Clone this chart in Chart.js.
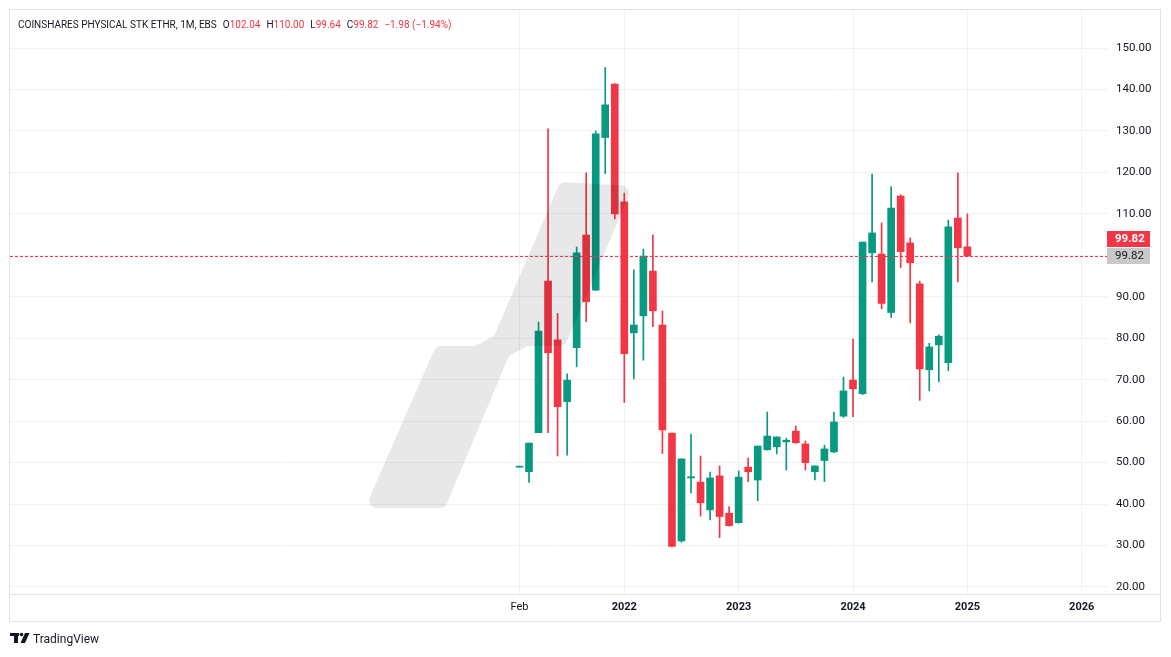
<!DOCTYPE html>
<html>
<head>
<meta charset="utf-8">
<script src="https://cdn.jsdelivr.net/npm/chart.js@4.4.1/dist/chart.umd.min.js"></script>
<style>
  html, body { margin: 0; padding: 0; background: #ffffff; }
  #wrap { width: 1171px; height: 657px; position: relative; }
</style>
</head>
<body>
<div id="wrap"><canvas id="chart"></canvas></div>
<script>
// monthly candles, Feb 2021 .. Jan 2025
const months = [
  '2021-02','2021-03','2021-04','2021-05','2021-06','2021-07','2021-08','2021-09','2021-10','2021-11','2021-12',
  '2022-01','2022-02','2022-03','2022-04','2022-05','2022-06','2022-07','2022-08','2022-09','2022-10','2022-11','2022-12',
  '2023-01','2023-02','2023-03','2023-04','2023-05','2023-06','2023-07','2023-08','2023-09','2023-10','2023-11','2023-12',
  '2024-01','2024-02','2024-03','2024-04','2024-05','2024-06','2024-07','2024-08','2024-09','2024-10','2024-11','2024-12',
  '2025-01'
];
const openVals = [
  48.9, 47.8, 57.2, 93.8, 79.6, 64.7, 77.7, 104.9, 91.6, 128.4, 141.3,
  112.9, 81.3, 85.4, 96.2, 83.2, 57.1, 31.1, 46.3, 45.3, 38.6, 46.8, 37.8,
  35.5, 48.9, 45.8, 53.1, 53.8, 55.0, 57.6, 54.5, 47.8, 50.5, 52.6, 61.2,
  69.9, 66.6, 100.6, 100.3, 86.2, 114.3, 103.0, 93.1, 72.4, 78.4, 74.1, 109.0,
  102.04
];
const highVals = [
  49.0, 54.7, 83.9, 130.5, 86.0, 71.4, 102.0, 119.9, 130.0, 145.3, 141.4,
  115.0, 96.5, 101.5, 104.9, 86.6, 57.1, 50.9, 56.9, 51.6, 47.7, 49.2, 39.4,
  48.0, 51.1, 54.0, 62.2, 56.2, 55.9, 58.8, 55.2, 49.2, 54.2, 62.2, 70.6,
  79.8, 103.2, 119.6, 107.8, 116.5, 114.6, 104.2, 93.8, 78.8, 80.8, 108.5, 119.9,
  110.00
];
const lowVals = [
  48.9, 45.2, 57.2, 57.2, 51.6, 51.8, 73.1, 84.0, 91.5, 119.7, 108.8,
  64.5, 70.2, 74.7, 82.8, 52.2, 29.7, 30.8, 42.7, 37.1, 36.2, 31.9, 34.7,
  35.4, 45.4, 40.8, 53.0, 52.1, 48.2, 54.6, 48.2, 45.8, 45.4, 52.4, 60.9,
  61.1, 66.4, 93.6, 87.1, 85.0, 97.0, 83.7, 65.0, 67.3, 69.5, 72.2, 93.6,
  99.64
];
const closeVals = [
  49.0, 54.7, 81.7, 76.5, 63.5, 69.9, 100.6, 88.8, 129.3, 136.3, 110.0,
  76.3, 83.2, 99.8, 86.6, 57.9, 29.8, 50.9, 46.6, 40.3, 46.3, 37.0, 34.8,
  46.5, 47.8, 54.0, 56.4, 56.2, 55.4, 54.8, 50.0, 49.2, 53.3, 59.8, 67.3,
  67.8, 103.2, 105.4, 88.4, 111.4, 100.9, 98.2, 72.6, 77.9, 80.5, 106.9, 101.80,
  99.82
];
const yTicks = [20, 30, 40, 50, 60, 70, 80, 90, 100, 110, 120, 130, 140, 150];
const yLabelTicks = [20, 30, 40, 50, 60, 70, 80, 90, 110, 120, 130, 140, 150];
const xTickMonths = ['2021-02', '2022-01', '2023-01', '2024-01', '2025-01', '2026-01'];
const xTickLabels = ['Feb', '2022', '2023', '2024', '2025', '2026'];
const lastPrice = 99.82;

const UP = '#089981';
const DOWN = '#f23645';
const TEXT = '#131722';
const GRID = '#f0f1f3';
const BORDER = '#e0e3eb';

// month string -> index counted from Jan 2021
function monthIdx(m) {
  const [y, mo] = m.split('-').map(Number);
  return (y - 2021) * 12 + (mo - 1);
}

const candleColors = months.map((m, i) => closeVals[i] >= openVals[i] ? UP : DOWN);
const bodies = months.map((m, i) => ({ x: monthIdx(m), y: [openVals[i], closeVals[i]] }));
const wicks = months.map((m, i) => ({ x: monthIdx(m), y: [lowVals[i], highVals[i]] }));
const xTickIdx = xTickMonths.map(monthIdx);

const FONT = 'Roboto, "Liberation Sans", Arial, sans-serif';

// frame, watermark, legend, price line, labels, logo
const decorPlugin = {
  id: 'decor',
  afterDatasetsDraw(chart) {
    const ctx = chart.ctx;
    const ca = chart.chartArea;
    const ys = chart.scales.y;
    ctx.save();
    ctx.beginPath();
    ctx.rect(ca.left, ca.top, ca.right - ca.left, ca.bottom - ca.top);
    ctx.clip();

    // watermark
    const pts = [[365, 508], [445, 508], [509, 356], [527, 346], [565, 346],
                 [633, 186], [560, 182], [494, 336], [475, 346], [436, 346]];
    ctx.fillStyle = 'rgba(0,0,0,0.09)';
    ctx.beginPath();
    const r = 8;
    for (let i = 0; i < pts.length; i++) {
      const p0 = pts[(i - 1 + pts.length) % pts.length];
      const p1 = pts[i];
      const p2 = pts[(i + 1) % pts.length];
      const mx = (p0[0] + p1[0]) / 2, my = (p0[1] + p1[1]) / 2;
      if (i === 0) ctx.moveTo(mx, my);
      ctx.arcTo(p1[0], p1[1], p2[0], p2[1], r);
    }
    ctx.closePath();
    ctx.fill();

    // last price line
    const py = Math.round(ys.getPixelForValue(lastPrice)) + 0.5;
    ctx.strokeStyle = DOWN;
    ctx.lineWidth = 1;
    ctx.setLineDash([3, 2]);
    ctx.beginPath();
    ctx.moveTo(ca.left, py);
    ctx.lineTo(ca.right, py);
    ctx.stroke();
    ctx.setLineDash([]);
    ctx.restore();

    // price labels on the scale
    ctx.save();
    ctx.fillStyle = DOWN;
    ctx.fillRect(ca.right, py - 25.5, 43, 16);
    ctx.fillStyle = '#c9c9c9';
    ctx.fillRect(ca.right, py - 8.5, 43, 16);
    ctx.font = 'bold 11.5px ' + FONT;
    ctx.textAlign = 'left';
    ctx.textBaseline = 'middle';
    ctx.fillStyle = '#ffffff';
    ctx.fillText(lastPrice.toFixed(2), ca.right + 8, py - 17);
    ctx.font = '11.5px ' + FONT;
    ctx.fillStyle = TEXT;
    ctx.fillText(lastPrice.toFixed(2), ca.right + 8, py);

    // header legend
    const o = openVals[openVals.length - 1], h = highVals[highVals.length - 1];
    const l = lowVals[lowVals.length - 1], c = closeVals[closeVals.length - 1];
    const prevC = closeVals[closeVals.length - 2];
    const chg = c - prevC;
    const pct = chg / prevC * 100;
    const parts = [
      ['COINSHARES PHYSICAL STK ETHR, 1M, EBS', TEXT, 6],
      ['O', TEXT, 0], [o.toFixed(2), DOWN, 6],
      ['H', TEXT, 0], [h.toFixed(2), DOWN, 6],
      ['L', TEXT, 0], [l.toFixed(2), DOWN, 6],
      ['C', TEXT, 0], [c.toFixed(2), DOWN, 6],
      ['\u2212' + Math.abs(chg).toFixed(2) + ' (\u2212' + Math.abs(pct).toFixed(2) + '%)', DOWN, 0]
    ];
    ctx.font = '10px ' + FONT;
    let x = 18;
    for (const [t, col, gap] of parts) {
      ctx.fillStyle = col;
      ctx.fillText(t, x, 25);
      x += ctx.measureText(t).width + gap;
    }

    // frame lines
    ctx.strokeStyle = BORDER;
    ctx.lineWidth = 1;
    ctx.strokeRect(9.5, 9.5, 1151, 612);
    ctx.beginPath();
    ctx.moveTo(10, ca.bottom + 0.5);
    ctx.lineTo(1160, ca.bottom + 0.5);
    ctx.stroke();

    // TradingView logo
    ctx.fillStyle = TEXT;
    ctx.fillRect(10, 633, 9, 3);
    ctx.fillRect(14, 633, 4, 10);
    ctx.beginPath();
    ctx.arc(21.5, 634.5, 1.8, 0, Math.PI * 2);
    ctx.fill();
    ctx.beginPath();
    ctx.moveTo(25, 633);
    ctx.lineTo(29.5, 633);
    ctx.lineTo(25, 643);
    ctx.lineTo(20.5, 643);
    ctx.closePath();
    ctx.fill();
    ctx.font = '12px ' + FONT;
    ctx.textBaseline = 'alphabetic';
    ctx.fillText('TradingView', 33, 643);
    ctx.restore();
  }
};

new Chart(document.getElementById('chart'), {
  type: 'bar',
  data: {
    datasets: [
      {
        label: 'wick',
        data: wicks,
        backgroundColor: candleColors,
        borderWidth: 0,
        barThickness: 1,
        minBarLength: 1,
        grouped: false,
        order: 2
      },
      {
        label: 'body',
        data: bodies,
        backgroundColor: candleColors,
        borderWidth: 0,
        barThickness: 7,
        minBarLength: 1,
        grouped: false,
        order: 1
      }
    ]
  },
  options: {
    responsive: true,
    maintainAspectRatio: false,
    animation: false,
    devicePixelRatio: 1,
    layout: { padding: { left: 10, top: 10, right: 11, bottom: 35 } },
    plugins: { legend: { display: false }, tooltip: { enabled: false } },
    scales: {
      x: {
        type: 'linear',
        offset: false,
        min: -52.46,
        max: 62.65,
        afterBuildTicks: (s) => { s.ticks = xTickIdx.map(v => ({ value: v })); },
        afterFit: (s) => { s.height = 28; s.paddingLeft = 0; s.paddingRight = 0; },
        grid: { color: GRID, drawTicks: false, offset: false },
        border: { display: false },
        ticks: {
          autoSkip: false,
          maxRotation: 0,
          padding: 7,
          color: TEXT,
          font: (c) => ({ family: FONT, size: 11, weight: (c.tick && c.tick.value === xTickIdx[0]) ? 'normal' : 'bold' }),
          callback: (v) => xTickLabels[xTickIdx.indexOf(v)]
        }
      },
      y: {
        position: 'right',
        min: 18.31,
        max: 159.17,
        afterBuildTicks: (s) => { s.ticks = yTicks.map(v => ({ value: v })); },
        afterFit: (s) => { s.width = 53; s.paddingTop = 0; s.paddingBottom = 0; },
        grid: { color: GRID, drawTicks: false },
        border: { display: false },
        ticks: {
          autoSkip: false,
          padding: 9,
          color: TEXT,
          font: { family: FONT, size: 11.5 },
          callback: (v) => yLabelTicks.includes(v) ? v.toFixed(2) : ''
        }
      }
    }
  },
  plugins: [decorPlugin]
});
</script>
</body>
</html>
